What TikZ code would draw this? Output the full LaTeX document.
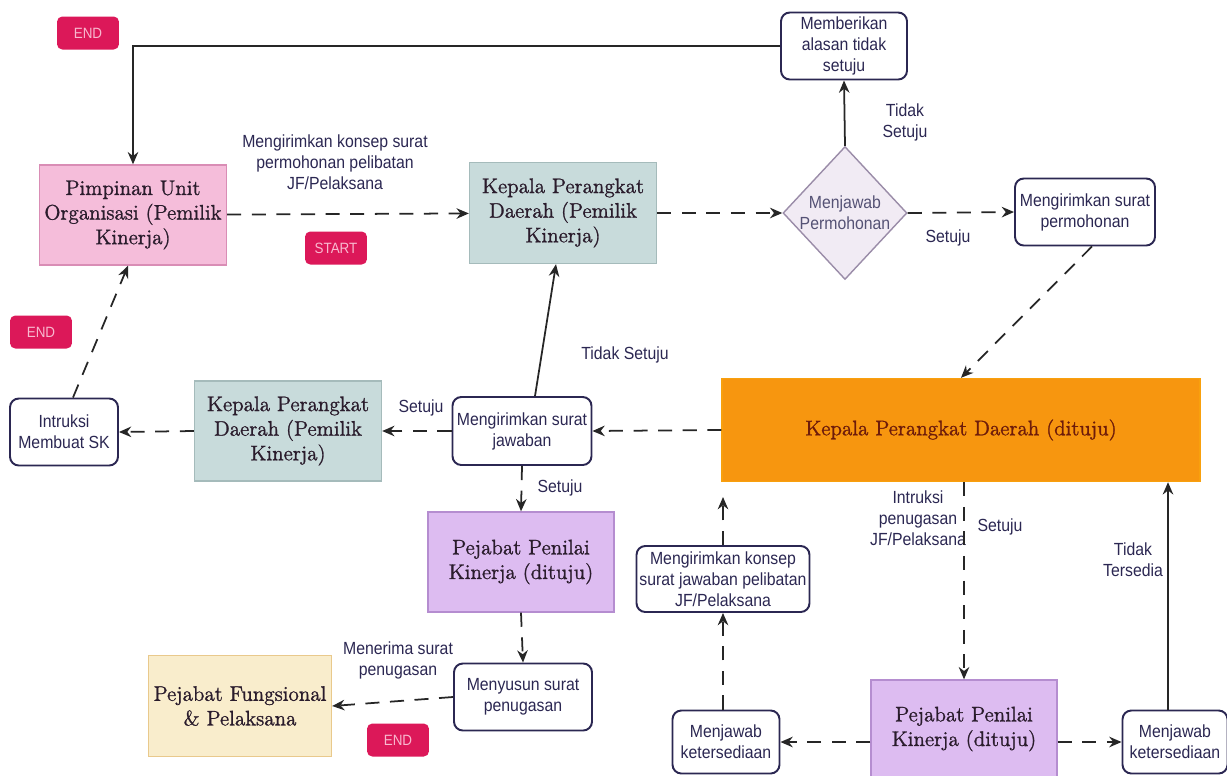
\documentclass[tikz,border=0pt]{standalone}
\usepackage{fontspec}
\newfontfamily\lblfont[FakeStretch=0.9]{Liberation Sans}
\newfontfamily\rolefont[FakeBold=1.2]{Latin Modern Roman}
\usetikzlibrary{calc,positioning,arrows,arrows.meta,shapes}

\definecolor{inkblue}{HTML}{2B2752}
\definecolor{rolefont}{HTML}{2A1C2C}
\definecolor{endred}{HTML}{DC1859}
\definecolor{tagtext}{HTML}{F8B9CF}
\definecolor{pinkfill}{HTML}{F5BDDA}
\definecolor{pinkline}{HTML}{D98DB5}
\definecolor{bluefill}{HTML}{C8DBDB}
\definecolor{blueline}{HTML}{A5BBBB}
\definecolor{decfill}{HTML}{F1EBF4}
\definecolor{decline}{HTML}{9A8CA8}
\definecolor{orangefill}{HTML}{F7960F}
\definecolor{orangetext}{HTML}{6E1C0A}
\definecolor{lavfill}{HTML}{DDBCF1}
\definecolor{lavline}{HTML}{B58DD0}
\definecolor{creamfill}{HTML}{F9EDCC}
\definecolor{creamline}{HTML}{E9C98C}

\begin{document}
\begin{tikzpicture}[x=0.02cm, y=-0.02cm, >={Stealth[length=7pt,width=6pt]},
  txt/.style={font=\lblfont\fontsize{10}{12}\selectfont, text=inkblue, align=center},
  rbox/.style={txt, draw=inkblue, line width=1.1pt, rounded corners=5pt, fill=white, inner sep=0pt},
  role/.style={draw, line width=0.8pt, inner sep=0pt, align=center, text=rolefont,
    font=\rolefont\fontsize{12}{14}\selectfont},
  tag/.style={fill=endred, rounded corners=3pt, text=tagtext, inner sep=0pt,
    font=\lblfont\fontsize{8.5}{10}\selectfont, minimum width=1.24cm, minimum height=0.66cm},
  decision/.style={diamond, draw=decline, fill=decfill, line width=0.8pt, inner sep=0pt,
    minimum width=2.48cm, minimum height=2.66cm},
  dline/.style={->, dash pattern=on 8pt off 6pt, line width=1pt, draw=black!85},
  sline/.style={->, line width=1pt, draw=black!85}]
\useasboundingbox (0,0) rectangle (1227,775);

% tags
\node[tag] (endA) at (88,33) {END};
\node[tag] (start) at (336,248) {START};
\node[tag] (endB) at (41,332) {END};
\node[tag] (endC) at (398,740) {END};

% roles
\node[role, fill=pinkfill, draw=pinkline, minimum width=3.74cm, minimum height=2cm]
  (pimpinan) at (133,215) {Pimpinan Unit\\Organisasi (Pemilik\\Kinerja)};
\node[role, fill=bluefill, draw=blueline, minimum width=3.74cm, minimum height=2.02cm]
  (kepalaA) at (563,213) {Kepala Perangkat\\Daerah (Pemilik\\Kinerja)};
\node[role, fill=bluefill, draw=blueline, minimum width=3.74cm, minimum height=2cm]
  (kepalaB) at (288,431) {Kepala Perangkat\\Daerah (Pemilik\\Kinerja)};
\node[role, fill=orangefill, draw=orangefill!90!yellow, text=orangetext, minimum width=9.56cm, minimum height=2.06cm]
  (orange) at (961,430) {Kepala Perangkat Daerah (dituju)};
\node[role, fill=lavfill, draw=lavline, minimum width=3.72cm, minimum height=2cm]
  (pejabatA) at (521,562) {Pejabat Penilai\\Kinerja (dituju)};
\node[role, fill=lavfill, draw=lavline, minimum width=3.72cm, minimum height=1.96cm]
  (pejabatB) at (964,729) {Pejabat Penilai\\Kinerja (dituju)};
\node[role, fill=creamfill, draw=creamline, minimum width=3.66cm, minimum height=2.02cm]
  (fungsional) at (240,706) {Pejabat Fungsional\\\& Pelaksana};

% decision
\node[decision] (jawab) at (845,213) {};
\node[txt, text=inkblue!80] at (jawab) {Menjawab\\Permohonan};

% steps
\node[rbox, minimum width=2.52cm, minimum height=1.34cm] (alasan) at (844,46) {Memberikan\\alasan tidak\\setuju};
\node[rbox, minimum width=2.8cm, minimum height=1.34cm] (permohonan) at (1085,212) {Mengirimkan surat\\permohonan};
\node[rbox, minimum width=2.78cm, minimum height=1.36cm] (suratjwb) at (522,431) {Mengirimkan surat\\jawaban};
\node[rbox, minimum width=2.16cm, minimum height=1.34cm] (intruksi) at (64,432) {Intruksi\\Membuat SK};
\node[rbox, minimum width=2.76cm, minimum height=1.34cm] (menyusun) at (523,697) {Menyusun surat\\penugasan};
\node[rbox, minimum width=3.46cm, minimum height=1.32cm] (konsep) at (723,579) {Mengirimkan konsep\\surat jawaban pelibatan\\JF/Pelaksana};
\node[rbox, minimum width=2.14cm, minimum height=1.26cm] (menjawabA) at (726,742) {Menjawab\\ketersediaan};
\node[rbox, minimum width=2.1cm, minimum height=1.26cm] (menjawabB) at (1175,742) {Menjawab\\ketersediaan};

% labels
\node[txt] (lblA) at (335,162) {Mengirimkan konsep surat\\permohonan pelibatan\\JF/Pelaksana};
\node[txt] (lblB) at (905,122) {Tidak\\Setuju};
\node[txt] (lblC) at (948,238) {Setuju};
\node[txt] (lblD) at (625,355) {Tidak Setuju};
\node[txt] (lblE) at (421,408) {Setuju};
\node[txt] (lblF) at (560,488) {Setuju};
\node[txt] (lblG) at (398,660) {Menerima surat\\penugasan};
\node[txt] (lblH) at (918,518) {Intruksi\\penugasan\\JF/Pelaksana};
\node[txt] (lblI) at (1000,527) {Setuju};
\node[txt] (lblJ) at (1133,560) {Tidak\\Tersedia};

% connectors
\draw[dline] (pimpinan) -- (kepalaA);
\draw[dline] (kepalaA) -- (jawab);
\draw[sline] (jawab.north) -- (alasan.south);
\draw[sline] (alasan.west) -| (pimpinan.north);
\draw[dline] (jawab.east) -- (permohonan.west);
\draw[dline] ($(permohonan.south)+(7,0)$) -- (orange.north);
\draw[dline] (orange.west) -- (suratjwb.east);
\draw[sline] ($(suratjwb.north)+(13,0)$) -- ($(kepalaA.south)+(-7,0)$);
\draw[dline] (suratjwb.west) -- (kepalaB.east);
\draw[dline] (kepalaB.west) -- (intruksi.east);
\draw[dline] ($(intruksi.north)+(9,0)$) -- ($(pimpinan.south)+(-5,0)$);
\draw[dline] (suratjwb.south) -- (pejabatA.north);
\draw[dline] (pejabatA.south) -- (menyusun.north);
\draw[dline] (menyusun.west) -- (fungsional.east);
\draw[dline] (orange.south -| pejabatB.north) -- (pejabatB.north);
\draw[dline] (pejabatB.west |- menjawabA.east) -- (menjawabA.east);
\draw[dline] (pejabatB.east |- menjawabB.west) -- (menjawabB.west);
\draw[dline] (menjawabA.north -| konsep.south) -- (konsep.south);
\coordinate (tipA) at (723,497);
\draw[dline] (konsep.north) -- (tipA);
\coordinate (tb) at ($(menjawabB.north)+(-7,0)$);
\draw[sline] (tb) -- (tb |- orange.south);
\end{tikzpicture}
\end{document}
